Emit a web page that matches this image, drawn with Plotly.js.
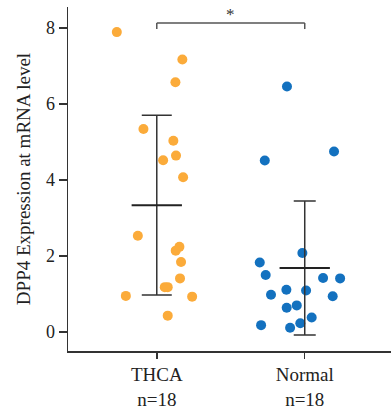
<!DOCTYPE html>
<html>
<head>
<meta charset="utf-8">
<script src="https://cdn.plot.ly/plotly-3.0.1.min.js"></script>
<style>html,body{margin:0;padding:0;background:#fff;}#chart{width:391px;height:419px;}</style>
</head>
<body>
<div id="chart"></div>
<script>
const categories = ["THCA", "Normal"];
const counts = [18, 18];
const thcaValues = [7.89, 7.17, 6.57, 5.34, 5.03, 4.52, 4.64, 4.07, 2.53, 2.24, 2.14, 1.84, 1.41, 1.18, 1.18, 0.95, 0.93, 0.43];
const thcaJitter = [-0.27, 0.173, 0.126, -0.09, 0.112, 0.043, 0.13, 0.178, -0.128, 0.153, 0.128, 0.164, 0.157, 0.054, 0.074, -0.209, 0.239, 0.074];
const normalValues = [6.46, 4.75, 4.51, 2.08, 1.83, 1.50, 1.42, 1.41, 1.11, 1.09, 0.98, 0.94, 0.64, 0.70, 0.38, 0.18, 0.23, 0.11];
const normalJitter = [-0.12, 0.198, -0.27, -0.016, -0.304, -0.264, 0.124, 0.239, -0.124, 0.009, -0.228, 0.189, -0.122, -0.054, 0.047, -0.295, -0.03, -0.099];
const yTicks = [0, 2, 4, 6, 8];
const sigLabel = "*";
const sigLevel = 8.13;

const FONT = "Liberation Serif, Times New Roman, serif";
const INK = "#333333";

function mean(a){ return a.reduce((s,v)=>s+v,0)/a.length; }
function sd(a){ const m = mean(a); return Math.sqrt(a.reduce((s,v)=>s+(v-m)*(v-m),0)/(a.length-1)); }

const groups = [
  {vals: thcaValues, jit: thcaJitter, color: "#FBAB3A", cap: 15},
  {vals: normalValues, jit: normalJitter, color: "#1371BF", cap: 11}
];

const traces = [];
const shapes = [];
groups.forEach((g, i) => {
  traces.push({
    type: "scatter", mode: "markers",
    x: g.jit.map(j => i + j), y: g.vals,
    marker: {color: g.color, size: 10, line: {width: 0}},
    hoverinfo: "y", showlegend: false
  });
  const m = mean(g.vals), s = sd(g.vals);
  traces.push({
    type: "scatter", mode: "markers",
    x: [i], y: [m],
    marker: {size: 1, color: "rgba(0,0,0,0)"},
    error_y: {type: "data", array: [s], visible: true, color: INK, thickness: 1.5, width: g.cap},
    hoverinfo: "skip", showlegend: false
  });
  shapes.push({type: "line", xref: "x", yref: "y", x0: i - 0.17, x1: i + 0.17, y0: m, y1: m,
    line: {color: "#222222", width: 2}});
});

// significance bracket
shapes.push({type: "line", xref: "x", yref: "y", x0: 0, x1: 1, y0: sigLevel, y1: sigLevel, line: {color: "#555555", width: 1.5}});
shapes.push({type: "line", xref: "x", yref: "y", x0: 0, x1: 0, y0: sigLevel, y1: sigLevel - 0.16, line: {color: "#555555", width: 1.5}});
shapes.push({type: "line", xref: "x", yref: "y", x0: 1, x1: 1, y0: sigLevel, y1: sigLevel - 0.16, line: {color: "#555555", width: 1.5}});

const layout = {
  width: 391, height: 419,
  margin: {l: 68, r: 0, t: 7, b: 68},
  paper_bgcolor: "#ffffff", plot_bgcolor: "#ffffff",
  font: {family: FONT, color: INK},
  showlegend: false,
  xaxis: {
    range: [-0.6, 1.583],
    tickvals: categories.map((c, i) => i),
    ticktext: categories.map((c, i) => c + "<br>n=" + counts[i]),
    tickfont: {family: FONT, size: 19, color: "#222222"},
    showgrid: false, zeroline: false,
    showline: true, linecolor: INK, linewidth: 1.5,
    ticks: "outside", ticklen: 6, tickwidth: 1.5, tickcolor: INK
  },
  yaxis: {
    range: [-0.5, 8.55],
    tickvals: yTicks,
    ticktext: yTicks.map(String),
    tickfont: {family: FONT, size: 18, color: "#222222"},
    showgrid: false, zeroline: false,
    showline: true, linecolor: INK, linewidth: 1.5,
    ticks: "outside", ticklen: 8, tickwidth: 1.5, tickcolor: INK,
    title: {text: "DPP4 Expression at mRNA level", font: {family: FONT, size: 19, color: "#222222"}, standoff: 10}
  },
  shapes: shapes,
  annotations: [{
    xref: "x", yref: "y", x: 0.5, y: sigLevel, text: sigLabel, showarrow: false,
    yanchor: "bottom", yshift: -3, font: {family: FONT, size: 17, color: "#333333"}
  }]
};

Plotly.newPlot("chart", traces, layout, {displayModeBar: false, staticPlot: true});
</script>
</body>
</html>
